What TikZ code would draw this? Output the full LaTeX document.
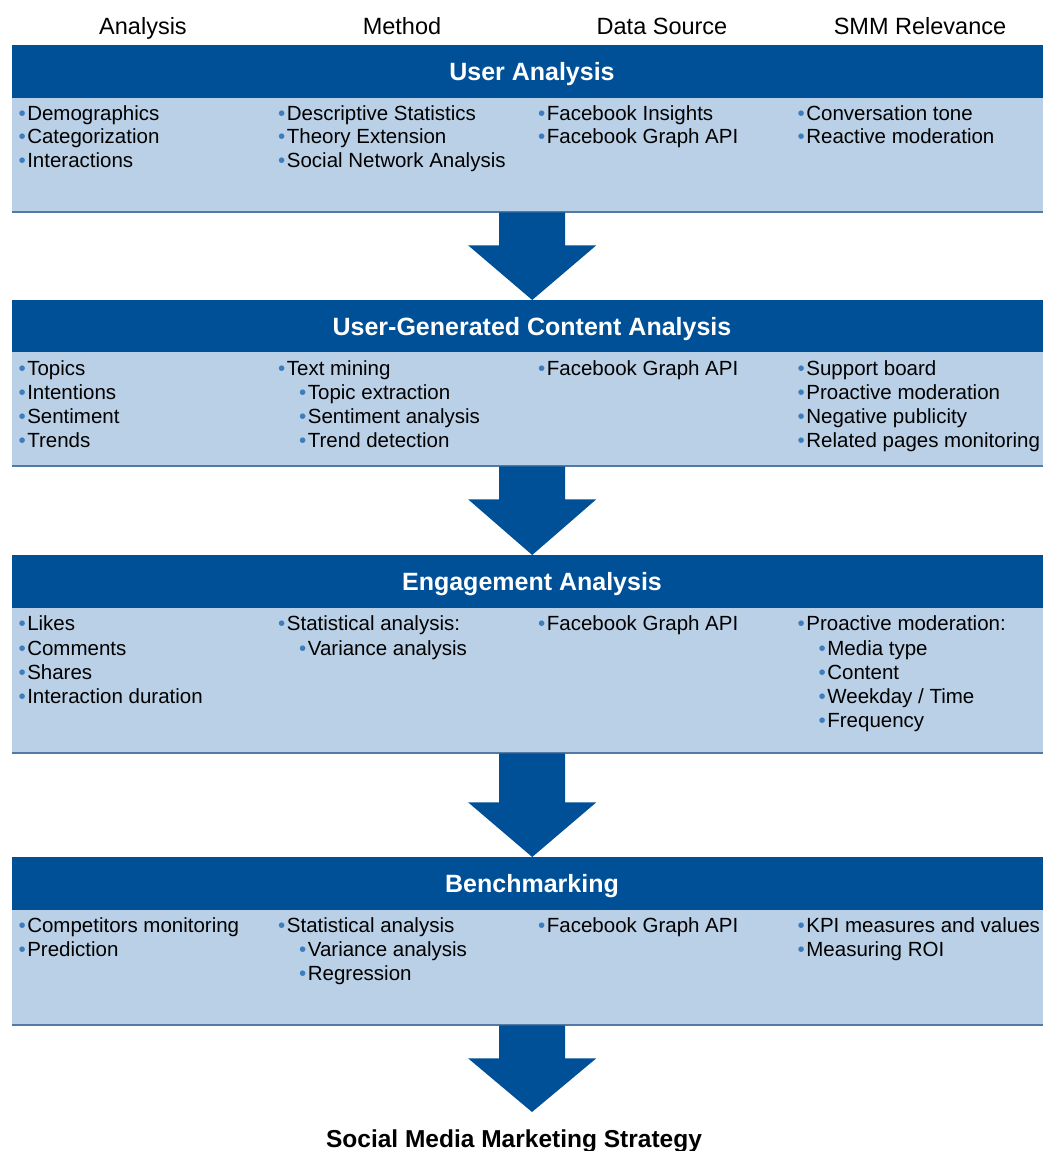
\documentclass[tikz,border=0pt]{standalone}
\usepackage{fontspec}
\setmainfont{Liberation Sans}
\usetikzlibrary{calc}
\definecolor{barblue}{RGB}{0,80,152}
\definecolor{boxblue}{RGB}{186,208,230}
\definecolor{edgeblue}{RGB}{84,122,163}
\definecolor{bulblue}{RGB}{60,125,190}
\newcommand\bul{\textcolor{bulblue}{\textbullet}\hspace{1.5pt}}
\newcommand\sbi{\hspace*{21pt}}
\newcommand\itemcol[5]{%
  \foreach \t [count=\i] in {#5} {\node[itemtxt] (#1-\i) at (#2, {#3+(\i-1)*#4}) {\t};}}
\newcommand\flowarrow[3]{%
  \fill[barblue] ($(#1.south)+(-33,0)$) -- ($(#1.south)+(-33,#3)$) -- ($(#1.south)+(-64,#3)$)
    -- (#2) -- ($(#1.south)+(64,#3)$) -- ($(#1.south)+(33,#3)$) -- ($(#1.south)+(33,0)$) -- cycle;}
\begin{document}
\begin{tikzpicture}[x=1pt,y=-1pt,
  hdr/.style={anchor=base, inner sep=0, font=\fontsize{23.5}{28}\selectfont},
  barbox/.style={anchor=north west, fill=barblue, draw=none, inner sep=0,
     minimum width=1040pt, minimum height=53pt},
  lightbox/.style={anchor=north west, fill=boxblue, draw=none, inner sep=0,
     minimum width=1040pt},
  titletxt/.style={anchor=base, inner sep=0, text=white, font=\bfseries\fontsize{25}{30}\selectfont},
  itemtxt/.style={anchor=base west, inner sep=0, font=\fontsize{20.5}{24}\selectfont},
  edge/.style={draw=edgeblue, line width=2pt}]
\useasboundingbox (0,0) rectangle (1043,1151);
\fill[white] (0,0) rectangle (1043,1151);

% column headers
\node[hdr] (h1) at (143,34) {Analysis};
\node[hdr] (h2) at (402,34) {Method};
\node[hdr] (h3) at (662,34) {Data Source};
\node[hdr] (h4) at (920,34) {SMM Relevance};

% section 1
\node[barbox] (bar1) at (12,45) {};
\node[lightbox, minimum height=114pt] (box1) at (12,98) {};
\draw[edge] (box1.south west) -- (box1.south east);
\node[titletxt] (t1) at (532,80.5) {User Analysis};
\itemcol{a1}{18.4}{120}{23.5}{\bul Demographics,\bul Categorization,\bul Interactions}
\itemcol{m1}{278}{120}{23.5}{\bul Descriptive Statistics,\bul Theory Extension,\bul Social Network Analysis}
\itemcol{d1}{538}{120}{23.5}{\bul Facebook Insights,\bul Facebook Graph API}
\itemcol{r1}{797.5}{120}{23.5}{\bul Conversation tone,\bul Reactive moderation}

% section 2
\node[barbox] (bar2) at (12,300) {};
\node[lightbox, minimum height=114pt] (box2) at (12,352) {};
\draw[edge] (box2.south west) -- (box2.south east);
\node[titletxt] (t2) at (532,335.5) {User-Generated Content Analysis};
\itemcol{a2}{18.4}{375}{24.3}{\bul Topics,\bul Intentions,\bul Sentiment,\bul Trends}
\itemcol{m2}{278}{375}{24.3}{\bul Text mining,\sbi\bul Topic extraction,\sbi\bul Sentiment analysis,\sbi\bul Trend detection}
\itemcol{d2}{538}{375}{24.3}{\bul Facebook Graph API}
\itemcol{r2}{797.5}{375}{24.3}{\bul Support board,\bul Proactive moderation,\bul Negative publicity,\bul Related pages monitoring}

% section 3
\node[barbox] (bar3) at (12,555) {};
\node[lightbox, minimum height=145pt] (box3) at (12,608) {};
\draw[edge] (box3.south west) -- (box3.south east);
\node[titletxt] (t3) at (532,590.5) {Engagement Analysis};
\itemcol{a3}{18.4}{630.7}{24.3}{\bul Likes,\bul Comments,\bul Shares,\bul Interaction duration}
\itemcol{m3}{278}{630.7}{24.3}{\bul Statistical analysis:,\sbi\bul Variance analysis}
\itemcol{d3}{538}{630.7}{24.3}{\bul Facebook Graph API}
\itemcol{r3}{797.5}{630.7}{24.3}{\bul Proactive moderation:,\sbi\bul Media type,\sbi\bul Content,\sbi\bul Weekday / Time,\sbi\bul Frequency}

% section 4
\node[barbox] (bar4) at (12,857) {};
\node[lightbox, minimum height=115pt] (box4) at (12,910) {};
\draw[edge] (box4.south west) -- (box4.south east);
\node[titletxt] (t4) at (532,892.5) {Benchmarking};
\itemcol{a4}{18.4}{932.7}{24}{\bul Competitors monitoring,\bul Prediction}
\itemcol{m4}{278}{932.7}{24}{\bul Statistical analysis,\sbi\bul Variance analysis,\sbi\bul Regression}
\itemcol{d4}{538}{932.7}{24}{\bul Facebook Graph API}
\itemcol{r4}{797.5}{932.7}{24}{\bul KPI measures and values,\bul Measuring ROI}

% arrows
\coordinate (endtip) at (532,1112);
\flowarrow{box1}{bar2.north}{33}
\flowarrow{box2}{bar3.north}{33}
\flowarrow{box3}{bar4.north}{49}
\flowarrow{box4}{endtip}{33}

\node[anchor=base, inner sep=0, font=\bfseries\fontsize{24.5}{29}\selectfont] (smm) at (514,1147) {Social Media Marketing Strategy};
\end{tikzpicture}
\end{document}
